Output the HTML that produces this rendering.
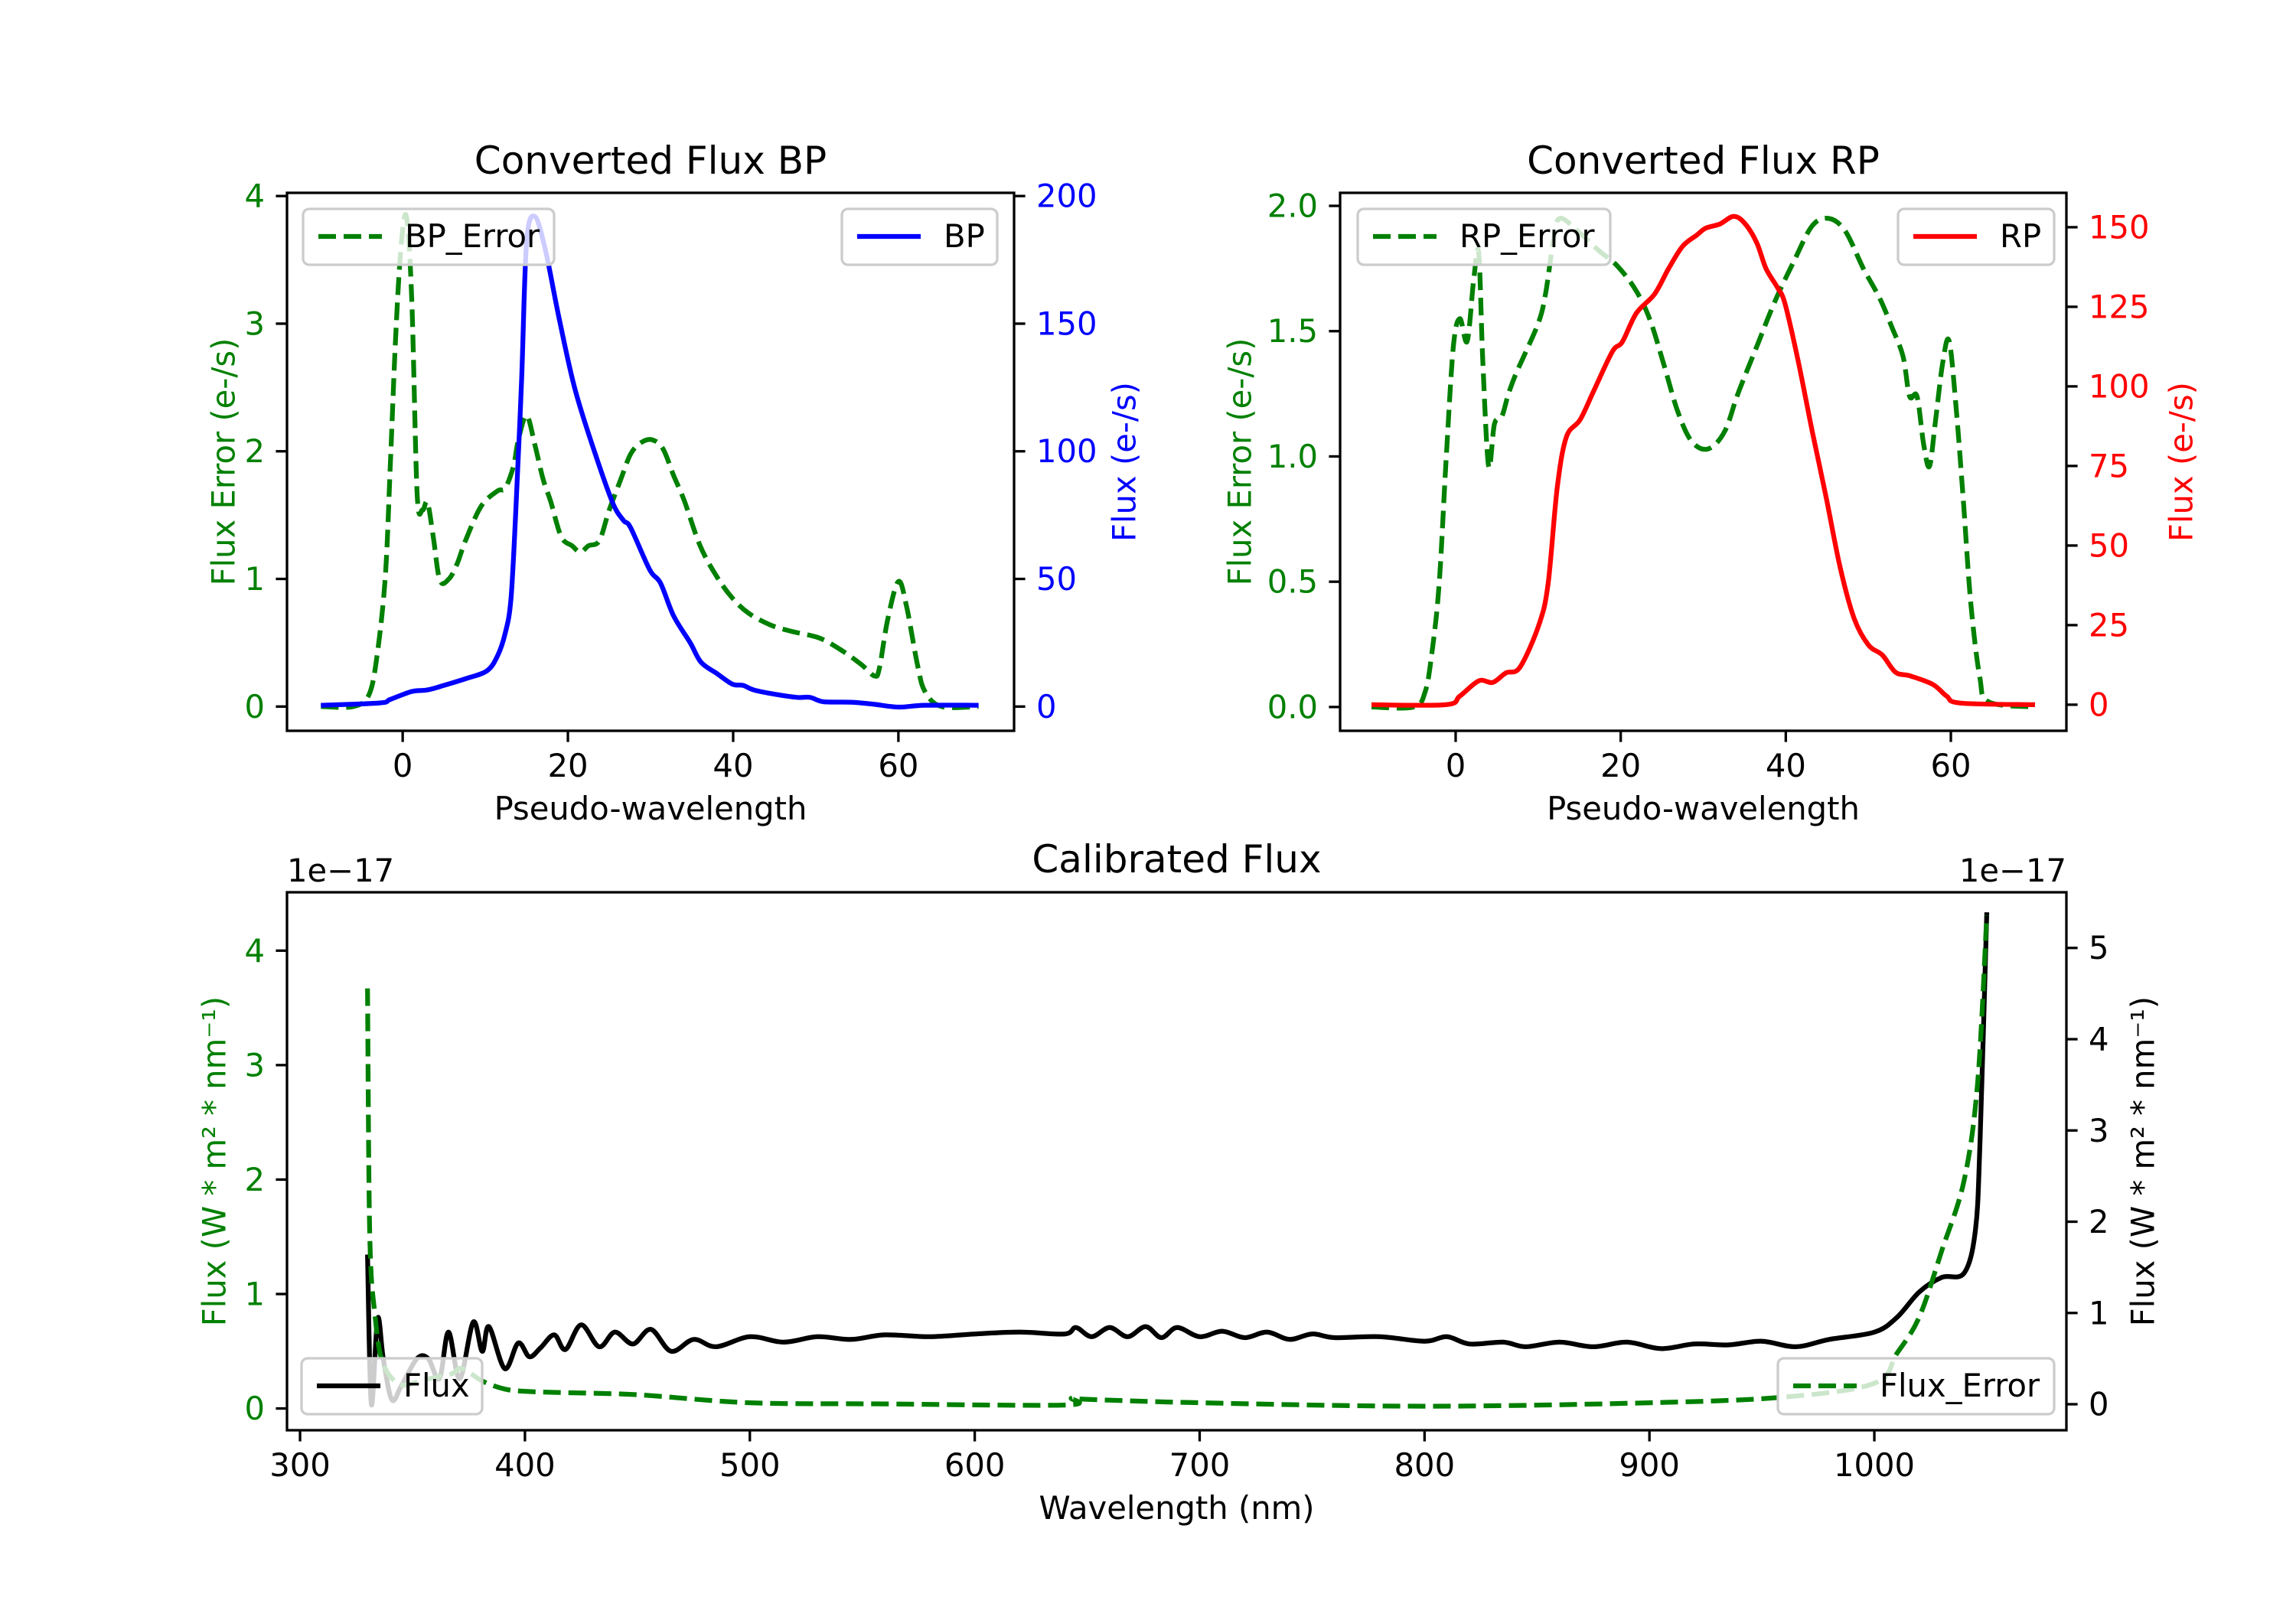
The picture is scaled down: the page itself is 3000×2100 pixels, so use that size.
<!DOCTYPE html>
<html><head><meta charset="utf-8"><style>
html,body{margin:0;padding:0;background:#fff}
svg{display:block}
text{font-family:"DejaVu Sans","Liberation Sans",sans-serif}
</style></head><body>
<svg id="fig" width="3000" height="2100" viewBox="0 0 3000 2100" xmlns="http://www.w3.org/2000/svg">
<rect width="3000" height="2100" fill="#fff"/>
</svg>
<script>
// ---------- data ----------
const bpErrX = [-9.9,-6,-4.1,-3.1,-2.1,-1.5,-0.84,-0.2,0.45,1.1,1.75,2.4,3.0,3.7,4.5,5.6,6.6,7.6,9.5,11.5,12.4,13.4,14,15,16,17,17.9,19.2,20.5,21.5,22.5,23.8,25,26.4,27.6,28.9,30.2,31.5,32.8,34.1,36,38,39.9,41.9,44.5,47,50.3,52.9,55.5,57.1,57.7,58.7,60,61,62.3,63.2,65.2,69.7];
const bpErrY = [0,0,0.09,0.4,1.02,1.88,2.91,3.6,3.84,3.19,1.67,1.54,1.6,1.33,0.99,1.0,1.12,1.3,1.57,1.69,1.71,1.88,2.09,2.28,2.05,1.78,1.61,1.33,1.26,1.21,1.26,1.3,1.54,1.78,1.98,2.07,2.09,2.02,1.81,1.61,1.26,1.02,0.85,0.73,0.64,0.59,0.54,0.45,0.33,0.24,0.3,0.68,0.98,0.78,0.33,0.12,0,0];
const bpX = [-9.9,-2.8,-1.5,1.1,3,5,7.6,10.2,11.5,12.4,13.1,13.7,14.4,15,16,17.3,18.9,20.8,23.1,25.4,26.7,27.6,29.9,31.2,32.8,34.8,36.1,38,39.9,41.2,42.5,45.1,47.7,49.3,50.9,54.2,56.8,60,63.2,69.7];
const bpY = [0.5,1.4,2.8,5.9,6.5,8.3,10.9,14,20,28.6,42,77,128.5,182,192,178.5,152.6,125,101,80,73,70,53.6,48.4,35.5,25,17.4,13,8.8,8.3,6.5,4.8,3.6,3.6,1.9,1.7,1,-0.2,0.5,0.5];
const rpErrX = [-10.2,-5.1,-3.7,-2.9,-2,-1.2,-0.3,0.5,1.4,2.2,2.8,3.3,4,4.7,5.6,6.4,7.3,8.4,10.1,10.9,11.8,12.6,15.1,17.4,19.6,21.9,23.6,25.2,26.9,28.6,30.6,32.6,34.2,36.5,38.7,41,43.2,45.2,47.2,49.4,51.4,52.8,54.2,55,55.9,56.7,57.4,58.1,59,59.8,60.7,61.5,62.4,63.5,64.6,70.2];
const rpErrY = [0,0,0.06,0.21,0.49,0.96,1.43,1.55,1.46,1.71,1.81,1.37,0.96,1.13,1.16,1.25,1.33,1.41,1.54,1.65,1.85,1.95,1.89,1.82,1.76,1.66,1.54,1.37,1.18,1.06,1.03,1.1,1.25,1.44,1.62,1.78,1.92,1.95,1.9,1.75,1.63,1.52,1.4,1.24,1.24,1.05,0.96,1.13,1.37,1.46,1.17,0.83,0.42,0.12,0.02,0];
const rpX = [-10.2,-1.2,0.5,2.8,4.5,6.1,7.8,10.1,11.2,12.3,13.4,15.1,16.8,19,20.2,21.9,24.1,25.8,27.5,29.2,30.3,32,33.7,35.1,36.5,37.6,39,39.9,41.5,43.2,44.9,46.6,48.3,50,51.7,53.3,55,57.8,59.5,61.2,70.2];
const rpY = [0,0,2.7,7.5,7,10,11.8,25.2,38,68,84,89.6,99,111,114,123,129,137,144,147.5,149.7,151,153.4,151,145,137,131,126,108,86,65,43,27,18.8,15.6,10.2,9.1,6.4,2.7,0.5,0];
const calX = [330,331.7,334.5,337,340.8,345,352,357,362,366,371,377,381,384,391,397,402,407,413,418,425,433,440,448,456,465,475,485,500,515,530,545,560,580,600,620,640,645,652,660,668,676,683,690,700,710,720,730,740,750,760,780,800,810,820,835,845,860,875,890,905,920,935,950,965,980,1000,1010,1020,1030,1040,1045,1047,1050];
const calY = [1.64,0,0.94,0.5,0.05,0.2,0.5,0.5,0.28,0.79,0.28,0.9,0.58,0.85,0.39,0.67,0.52,0.62,0.76,0.6,0.87,0.63,0.79,0.66,0.82,0.58,0.71,0.63,0.74,0.68,0.74,0.71,0.76,0.74,0.77,0.79,0.77,0.84,0.74,0.84,0.74,0.85,0.73,0.84,0.74,0.8,0.73,0.79,0.71,0.77,0.73,0.74,0.69,0.74,0.66,0.68,0.63,0.68,0.63,0.68,0.61,0.66,0.65,0.69,0.63,0.71,0.79,0.95,1.23,1.39,1.44,1.92,2.89,5.39];
const calErrX = [330,331,333.3,336.8,344.6,355,367,372,381,391,400,414,450,500,560,640,643,650,700,800,900,960,1000,1010,1020,1030,1040,1046,1050];
const calErrY = [3.67,1.52,0.82,0.40,0.21,0.25,0.30,0.35,0.24,0.17,0.15,0.14,0.12,0.05,0.04,0.03,0.09,0.08,0.05,0.02,0.05,0.1,0.22,0.48,0.8,1.38,2.0,2.86,4.31];
const bpXTicks = [0,20,40,60];
const bpLTicks = [0,1,2,3,4];
const bpRTicks = [0,50,100,150,200];
const rpLTicks = [0,0.5,1,1.5,2];
const rpLTickLabels = ["0.0","0.5","1.0","1.5","2.0"];
const rpRTicks = [0,25,50,75,100,125,150];
const calXTicks = [300,400,500,600,700,800,900,1000];
const calLTicks = [0,1,2,3,4];
const calRTicks = [0,1,2,3,4,5];

// ---------- drawing ----------
const NS = "http://www.w3.org/2000/svg";
const svg = document.getElementById('fig');
const FS = 41.7;
function mk(tag, attrs, name, parent) {
  const el = document.createElementNS(NS, tag);
  for (const k in attrs) el.setAttribute(k, attrs[k]);
  
  
  (parent || svg).appendChild(el);
  return el;
}
function txt(x, y, s, name, opts) {
  const o = Object.assign({size: FS, anchor: 'middle', fill: '#000', base: 'auto'}, opts || {});
  const a = {x: x, y: y, 'font-size': o.size, 'text-anchor': o.anchor, fill: o.fill, 'dominant-baseline': o.base};
  if (o.rot) a.transform = 'rotate(-90 ' + x + ' ' + y + ')';
  const t = mk('text', a, name);
  t.textContent = s;
  return t;
}
function scale(d0, d1, p0, p1) { return v => p0 + (v - d0) / (d1 - d0) * (p1 - p0); }
function path(xs, ys, sx, sy, color, dashed, name) {
  const P = xs.map((x, i) => [sx(x), sy(ys[i])]);
  const f = v => v.toFixed(1);
  let d = 'M' + f(P[0][0]) + ',' + f(P[0][1]);
  for (let i = 0; i < P.length - 1; i++) {
    const p0 = P[Math.max(0, i - 1)], p1 = P[i], p2 = P[i + 1], p3 = P[Math.min(P.length - 1, i + 2)];
    const c1 = [p1[0] + (p2[0] - p0[0]) / 6, p1[1] + (p2[1] - p0[1]) / 6];
    const c2 = [p2[0] - (p3[0] - p1[0]) / 6, p2[1] - (p3[1] - p1[1]) / 6];
    d += 'C' + f(c1[0]) + ',' + f(c1[1]) + ' ' + f(c2[0]) + ',' + f(c2[1]) + ' ' + f(p2[0]) + ',' + f(p2[1]);
  }
  const a = {d: d, fill: 'none', stroke: color, 'stroke-width': 6.25, 'stroke-linejoin': 'round'};
  if (dashed) a['stroke-dasharray'] = '23 10';
  return mk('path', a, name);
}
function legend(x, y, w, label, color, dashed, name) {
  mk('rect', {x: x, y: y, width: w, height: 73, rx: 8, fill: 'rgba(255,255,255,0.8)', stroke: '#cccccc', 'stroke-width': 3.3}, name + '-box');
  const a = {x1: x + 20, x2: x + 103, y1: y + 36, y2: y + 36, stroke: color, 'stroke-width': 6.25};
  if (dashed) a['stroke-dasharray'] = '23 10';
  mk('line', a, name + '-swatch');
  txt(x + 133, y + 50, label, name + '-label', {anchor: 'start'});
}
function axesFrame(x0, x1, y0, y1, name) {
  mk('rect', {x: x0, y: y0, width: x1 - x0, height: y1 - y0, fill: 'none', stroke: '#000', 'stroke-width': 3.3}, name);
}
function xTicks(ticks, labels, sx, y1, name, labelY) {
  ticks.forEach((t, i) => {
    mk('line', {x1: sx(t), x2: sx(t), y1: y1, y2: y1 + 14.6, stroke: '#000', 'stroke-width': 3.3}, name + '-tick');
    txt(sx(t), labelY, labels ? labels[i] : String(t), name + '-label');
  });
}
function yTicks(ticks, labels, sy, xEdge, side, color, name) {
  ticks.forEach((t, i) => {
    const dx = side === 'left' ? -14.6 : 14.6;
    mk('line', {x1: xEdge, x2: xEdge + dx, y1: sy(t), y2: sy(t), stroke: '#000', 'stroke-width': 3.3}, name + '-tick');
    txt(xEdge + (side === 'left' ? -29 : 29), sy(t), labels ? labels[i] : String(t), name + '-label',
      {anchor: side === 'left' ? 'end' : 'start', fill: color, base: 'central'});
  });
}
const GREEN = '#008000';

// BP panel
(function () {
  const x0 = 375, x1 = 1325, y0 = 252, y1 = 955;
  const sx = scale(-14, 74, x0, x1);
  const syL = scale(-0.19, 4.025, y1, y0);
  const syR = scale(-9.5, 201.25, y1, y0);
  path(bpErrX, bpErrY, sx, syL, GREEN, true, 'bp-error-line');
  path(bpX, bpY, sx, syR, '#0000ff', false, 'bp-flux-line');
  axesFrame(x0, x1, y0, y1, 'bp-axes');
  xTicks(bpXTicks, null, sx, y1, 'bp-x', 1015);
  yTicks(bpLTicks, null, syL, x0, 'left', GREEN, 'bp-y-left');
  yTicks(bpRTicks, null, syR, x1, 'right', '#0000ff', 'bp-y-right');
  txt((x0 + x1) / 2, 227, 'Converted Flux BP', 'bp-title', {size: 50});
  txt((x0 + x1) / 2, 1071, 'Pseudo-wavelength', 'bp-x-title');
  txt(292, (y0 + y1) / 2, 'Flux Error (e-/s)', 'bp-y-left-title', {rot: true, fill: GREEN, base: 'central'});
  txt(1469, (y0 + y1) / 2, 'Flux (e-/s)', 'bp-y-right-title', {rot: true, fill: '#0000ff', base: 'central'});
  legend(396, 273, 328, 'BP_Error', GREEN, true, 'bp-error-legend');
  legend(1100, 273, 203, 'BP', '#0000ff', false, 'bp-legend');
})();

// RP panel
(function () {
  const x0 = 1751, x1 = 2700, y0 = 252, y1 = 955;
  const sx = scale(-14, 74, x0, x1);
  const syL = scale(-0.095, 2.052, y1, y0);
  const syR = scale(-8.2, 160.8, y1, y0);
  path(rpErrX, rpErrY, sx, syL, GREEN, true, 'rp-error-line');
  path(rpX, rpY, sx, syR, '#ff0000', false, 'rp-flux-line');
  axesFrame(x0, x1, y0, y1, 'rp-axes');
  xTicks(bpXTicks, null, sx, y1, 'rp-x', 1015);
  yTicks(rpLTicks, rpLTickLabels, syL, x0, 'left', GREEN, 'rp-y-left');
  yTicks(rpRTicks, null, syR, x1, 'right', '#ff0000', 'rp-y-right');
  txt((x0 + x1) / 2, 227, 'Converted Flux RP', 'rp-title', {size: 50});
  txt((x0 + x1) / 2, 1071, 'Pseudo-wavelength', 'rp-x-title');
  txt(1620, (y0 + y1) / 2, 'Flux Error (e-/s)', 'rp-y-left-title', {rot: true, fill: GREEN, base: 'central'});
  txt(2850, (y0 + y1) / 2, 'Flux (e-/s)', 'rp-y-right-title', {rot: true, fill: '#ff0000', base: 'central'});
  legend(1774, 273, 330, 'RP_Error', GREEN, true, 'rp-error-legend');
  legend(2480, 273, 204, 'RP', '#ff0000', false, 'rp-legend');
})();

// Calibrated panel
(function () {
  const x0 = 375, x1 = 2700, y0 = 1166, y1 = 1869;
  const sx = scale(294.2, 1085.4, x0, x1);
  const syL = scale(-0.19, 4.51, y1, y0);
  const syR = scale(-0.285, 5.61, y1, y0);
  path(calX, calY, sx, syR, '#000', false, 'calibrated-flux-line');
  path(calErrX, calErrY, sx, syL, GREEN, true, 'calibrated-error-line');
  axesFrame(x0, x1, y0, y1, 'calibrated-axes');
  xTicks(calXTicks, null, sx, y1, 'calibrated-x', 1929);
  yTicks(calLTicks, null, syL, x0, 'left', GREEN, 'calibrated-y-left');
  yTicks(calRTicks, null, syR, x1, 'right', '#000', 'calibrated-y-right');
  txt((x0 + x1) / 2, 1140, 'Calibrated Flux', 'calibrated-title', {size: 50});
  txt((x0 + x1) / 2, 1985, 'Wavelength (nm)', 'calibrated-x-title');
  txt(x0, 1152, '1e\u221217', 'left-offset-text', {anchor: 'start'});
  txt(x1, 1152, '1e\u221217', 'right-offset-text', {anchor: 'end'});
  txt(280, (y0 + y1) / 2, 'Flux (W * m\u00b2 * nm\u207b\u00b9)', 'calibrated-y-left-title', {rot: true, fill: GREEN, base: 'central'});
  txt(2800, (y0 + y1) / 2, 'Flux (W * m\u00b2 * nm\u207b\u00b9)', 'calibrated-y-right-title', {rot: true, fill: '#000', base: 'central'});
  legend(394, 1775, 236, 'Flux', '#000', false, 'flux-legend');
  legend(2323, 1775, 361, 'Flux_Error', GREEN, true, 'flux-error-legend');
})();
</script>
</body></html>
